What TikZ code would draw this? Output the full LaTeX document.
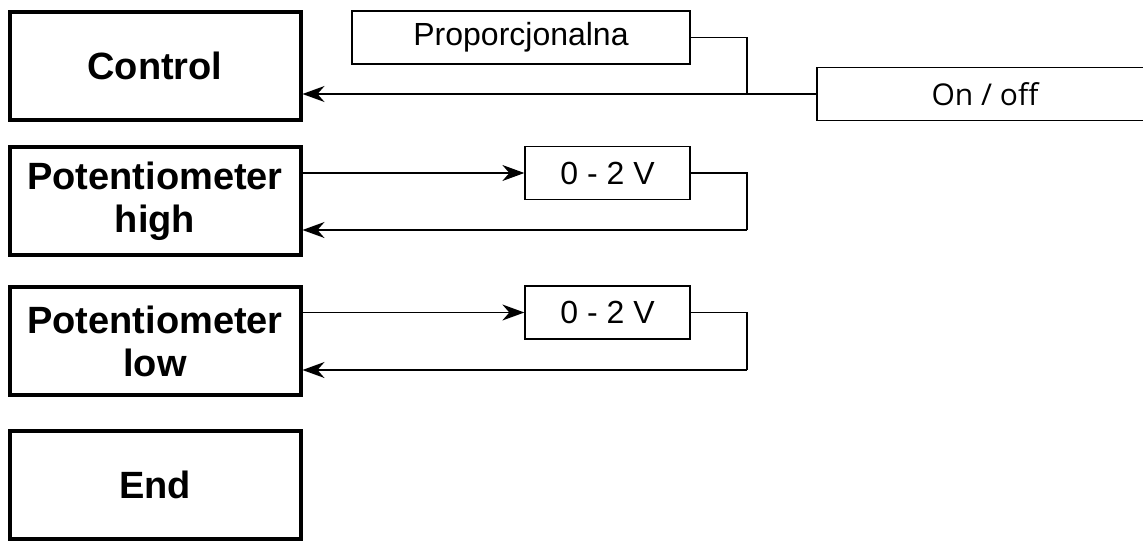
\documentclass[tikz,border=0pt]{standalone}
\usepackage{fontspec}
\setmainfont{Liberation Sans}
\newfontfamily\uifont{Open Sans}
\usetikzlibrary{arrows.meta}
\begin{document}
\begin{tikzpicture}[x=1pt,y=-1pt,
  mainbox/.style={draw, line width=4pt, inner sep=0pt, minimum width=291pt,
    minimum height=108pt, align=center,
    font=\fontsize{38}{43}\selectfont\bfseries},
  modebox/.style={draw, line width=1.3pt, inner sep=0pt, minimum height=53pt,
    font=\fontsize{32}{38}\selectfont},
  link/.style={line width=1.3pt},
  flow/.style={link, -{Stealth[length=22pt,width=16pt,inset=7pt]}}]

\useasboundingbox (0,0) rectangle (1143,543);
\clip (0,0) rectangle (1143,543);

% menu entries
\node[mainbox] (ctrl) at (155,66)  {Control};
\node[mainbox] (ph)   at (155,201) {Potentiometer\\high};
\node[mainbox] (pl)   at (155,341) {Potentiometer\\low};
\node[mainbox] (end)  at (155,485) {End};

% settings
\node[modebox, minimum width=338pt] (prop) at (521,37.5) {Proporcjonalna};
\node[modebox, minimum width=336pt, font=\uifont\fontsize{30}{36}\selectfont]
  (onoff) at (985,94) {On / off};
\node[modebox, minimum width=165pt] (vh) at (607.5,173)   {0 - 2 V};
\node[modebox, minimum width=165pt] (vl) at (607.5,312.5) {0 - 2 V};

% junction and return corners
\coordinate (j)  at (747,94);
\coordinate (rh) at (747,230);
\coordinate (rl) at (747,370);

% control mode selection
\draw[link] (prop.east) -| (j);
\draw[flow] (onoff.west) -- (onoff.west -| ctrl.east);

% potentiometer high
\draw[flow] (ph.east |- vh.west) -- (vh.west);
\draw[link] (vh.east) -| (rh);
\draw[flow] (rh) -- (rh -| ph.east);

% potentiometer low
\draw[flow] (pl.east |- vl.west) -- (vl.west);
\draw[link] (vl.east) -| (rl);
\draw[flow] (rl) -- (rl -| pl.east);
\end{tikzpicture}
\end{document}
